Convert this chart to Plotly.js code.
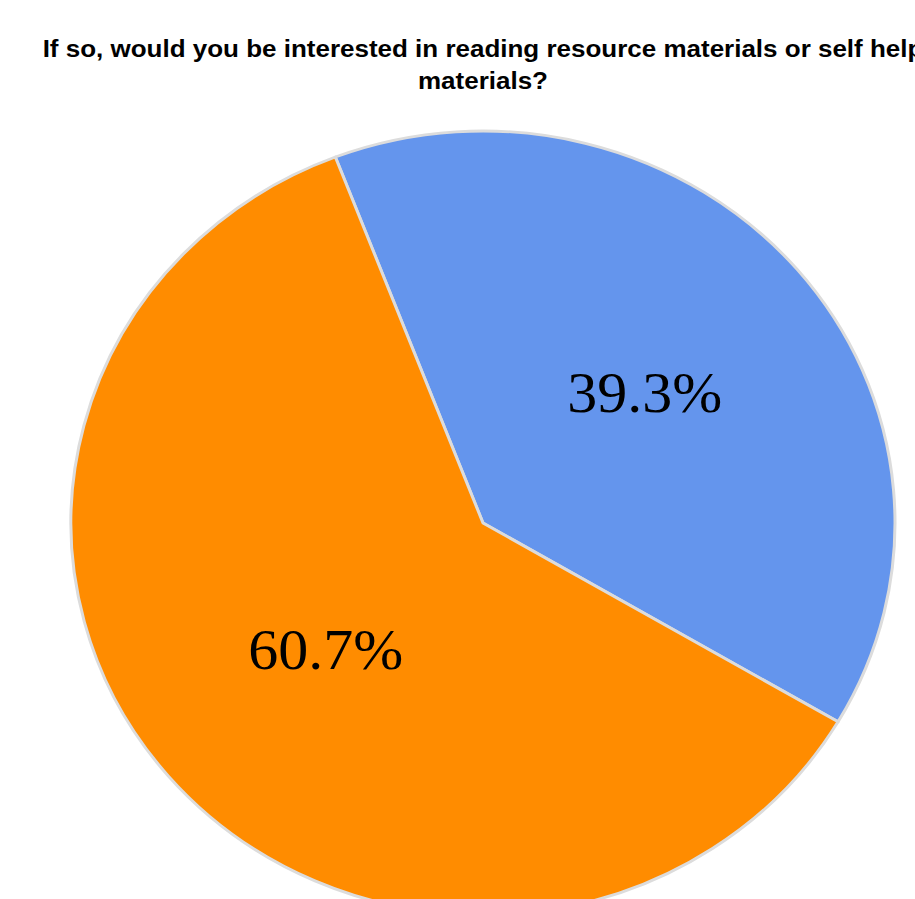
<!DOCTYPE html>
<html>
<head>
<meta charset="utf-8">
<script src="https://cdn.plot.ly/plotly-3.0.1.min.js"></script>
<style>
html, body { margin: 0; padding: 0; overflow: hidden; background: #fff; }
#chart { width: 966px; height: 980px; transform-origin: 0 0; }
</style>
</head>
<body>
<div id="chart"></div>
<script>
// Data
var labels = ['Yes', 'No'];
var values = [39.3, 60.7];
var colors = ['#6495ED', '#FF8C00'];
var titleText = 'If so, would you be interested in reading resource materials or self help<br>materials?';

// The reference pie is slightly flattened vertically
var squash = 392 / 412;
document.getElementById('chart').style.transform = 'scaleY(' + squash + ')';

var W = 966, H = 980;
var cx = 483, cy = 523 / squash, r = 412;

var trace = {
  type: 'pie',
  labels: labels,
  values: values,
  sort: false,
  direction: 'clockwise',
  rotation: -21,
  marker: { colors: colors, line: { color: '#dcdcdc', width: 3 } },
  texttemplate: '%{percent:.1%}',
  textposition: 'inside',
  insidetextorientation: 'horizontal',
  insidetextfont: { family: 'Liberation Serif, Times New Roman, serif', size: 60, color: '#000000' },
  hoverinfo: 'none',
  domain: {
    x: [(cx - r) / W, (cx + r) / W],
    y: [1 - (cy + r) / H, 1 - (cy - r) / H]
  }
};

var layout = {
  width: W,
  height: H,
  margin: { l: 0, r: 0, t: 0, b: 0 },
  paper_bgcolor: '#ffffff',
  showlegend: false,
  title: {
    text: titleText,
    x: 0.5,
    xanchor: 'center',
    xref: 'container',
    y: 1 - 60 / H,
    yanchor: 'top',
    yref: 'container',
    font: { family: 'Liberation Sans, Arial, sans-serif', size: 26, color: '#000000', weight: 'bold' }
  }
};

Plotly.newPlot('chart', [trace], layout, { displayModeBar: false, staticPlot: true });
</script>
</body>
</html>
